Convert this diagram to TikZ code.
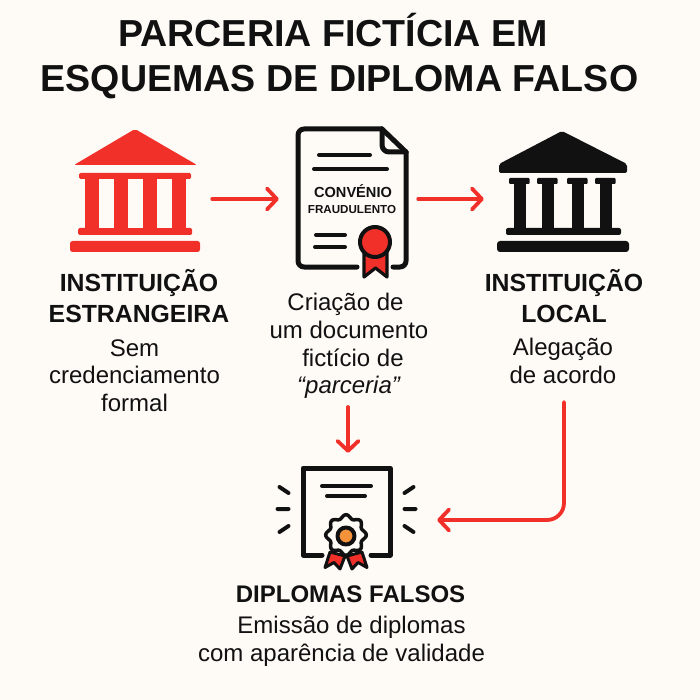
\documentclass[tikz,border=0pt]{standalone}
\usepackage{fontspec}
\setmainfont{Liberation Sans}
\usetikzlibrary{arrows.meta}
\definecolor{alertred}{HTML}{F2302A}
\definecolor{inkblack}{HTML}{111111}
\definecolor{paper}{HTML}{FEFBF7}
\definecolor{sealorange}{HTML}{F5923A}
\tikzset{
  headline/.style={font=\fontsize{37.6}{45}\selectfont\bfseries, align=center, text=inkblack},
  caption/.style={font=\fontsize{24.8}{30.5}\selectfont\bfseries, align=center, text=inkblack},
  detail/.style={font=\fontsize{24}{27.6}\selectfont, align=center, text=inkblack},
  iconbox/.style={minimum width=#1, inner sep=0pt},
  flow/.style={alertred, line width=3.8pt, line cap=round, line join=round, -{Straight Barb[length=10pt,width=21pt,line width=3.8pt,round]}},
  inkline/.style={inkblack, line width=5pt, line cap=round, line join=round}
}
\begin{document}
\begin{tikzpicture}[x=1pt,y=-1pt]
    \path[fill=paper, use as bounding box] (0,0) rectangle (700,700);
    \node[headline] (title) at (339.5,56) {PARCERIA FICTÍCIA EM\hspace*{13pt}\\ESQUEMAS DE DIPLOMA FALSO};

    \node[iconbox=130pt, minimum height=106pt] (iconforeign) at (135,199) {};
    \node[iconbox=112pt, minimum height=140pt] (iconpact) at (352,199) {};
    \node[iconbox=132pt, minimum height=106pt] (iconlocal) at (563,199) {};
    \node[iconbox=140pt, minimum height=104pt] (icondiploma) at (348,520) {};

    % foreign institution
    \fill[alertred, rounded corners=2pt] (135,129)--(197,165)--(74,165)--cycle;
    \fill[alertred, rounded corners=1.5pt] (79,173) rectangle (191,179) (78,228) rectangle (192,235);
    \fill[alertred] (85,178) rectangle (186,229);
    \foreach \x in {99,128,157} {
      \fill[paper] (\x,179) rectangle (\x + 15,228);
    }
    \fill[alertred, rounded corners=2.5pt] (70,241) rectangle (200,252);

    % local institution
    \fill[inkblack, rounded corners=2pt] (562,131)--(627,164)--(627,173)--(499,173)--(499,164)--cycle;
    \foreach \x in {509,537,567,595} {
      \fill[inkblack, rounded corners=1pt] (\x,178) rectangle (\x + 20.5,184);
      \fill[inkblack] (\x + 5,183) rectangle (\x + 16.5,229);
    }
    \fill[inkblack, rounded corners=2pt] (506,228) rectangle (621,235);
    \fill[inkblack, rounded corners=3pt] (497,241) rectangle (629,252);

    % agreement document
    \draw[inkline, rounded corners=6pt] (357,267)--(298,267)--(298,129)--(382,129);
    \draw[inkline] (382,129)--(406,152);
    \draw[inkline, rounded corners=6pt] (406,152)--(406,267)--(393,267);
    \draw[inkline, rounded corners=7pt] (382,129)--(382,152)--(406,152);
    \draw[inkline, line width=4pt] (319,155)--(370,155) (314,169)--(387,169) (316,235)--(345,235) (315,247)--(345,247);
    \node[font=\fontsize{14.6}{16}\selectfont\bfseries, text=inkblack, inner sep=0pt] (pacttop) at (353,191) {CONVÉNIO};
    \node[font=\fontsize{11.6}{14}\selectfont\bfseries, text=inkblack, inner sep=0pt] (pactbottom) at (352,210) {FRAUDULENTO};
    \draw[inkline, line width=3.2pt, fill=alertred] (364,252)--(364,277)--(375.5,268)--(387,277)--(387,252)--cycle;
    \draw[inkline, line width=4pt, fill=alertred] (375,242) circle (15);

    % false diploma
    \draw[inkline] (322,555)--(303,555)--(303,468)--(390,468)--(390,555)--(371,555);
    \draw[inkline, line width=4pt] (322,486)--(371,486) (327,496)--(365,496);
    \foreach \sx in {-1,1} {
      \draw[inkline, line width=4pt] (346.5 + \sx*58,493)--(346.5 + \sx*67,487) (346.5 + \sx*58,509)--(346.5 + \sx*69,509) (346.5 + \sx*58,526)--(346.5 + \sx*67,532);
      \draw[inkline, line width=3pt, fill=alertred] (346 + \sx*16,552)--(346 + \sx*21,567.5)--(346 + \sx*12,562.5)--(346 + \sx*6,569)--(346 + \sx*1,556)--cycle;
    }
    \draw[inkline, line width=3.5pt, fill=paper] plot[smooth cycle, samples=96, domain=0:356, variable=\t] ({346 + (18.5 + 1.8*cos(8*\t))*cos(\t)},{535 + (18.5 + 1.8*cos(8*\t))*sin(\t)});
    \draw[inkline, line width=4pt, fill=sealorange] (346,536) circle (8.5);

    \node[caption] (namefor) at (139,296) {INSTITUIÇÃO\\ESTRANGEIRA};
    \node[detail] (descfor) at (134.5,375.5) {Sem\\credenciamento\\formal};
    \node[detail] (descpact) at (349,346) {Criação de\hspace*{7pt}\\um documento\\\hspace*{8pt}fictício de\\\textit{“parceria”}};
    \node[caption] (namelocal) at (564,296) {INSTITUIÇÃO\\LOCAL};
    \node[detail] (desclocal) at (563,361) {Alegação\\de acordo};
    \node[caption, font=\fontsize{24}{30}\selectfont\bfseries] (namediploma) at (350.5,594) {DIPLOMAS FALSOS};
    \node[detail] (descdiploma) at (341.5,641) {\hspace*{20pt}Emissão de diplomas\\com aparência de validade};

    \coordinate (pactout) at (348,407);
    \coordinate (localout) at (564,402);
    \draw[flow, shorten <=12pt, shorten >=17pt] (iconforeign.east)--(iconpact.west);
    \draw[flow, shorten <=10pt, shorten >=13pt] (iconpact.east)--(iconlocal.west);
    \draw[flow, shorten >=15pt] (pactout)--(icondiploma.north);
    \draw[flow, shorten >=19pt, rounded corners=17pt] (localout)|-(icondiploma.east);
\end{tikzpicture}
\end{document}
